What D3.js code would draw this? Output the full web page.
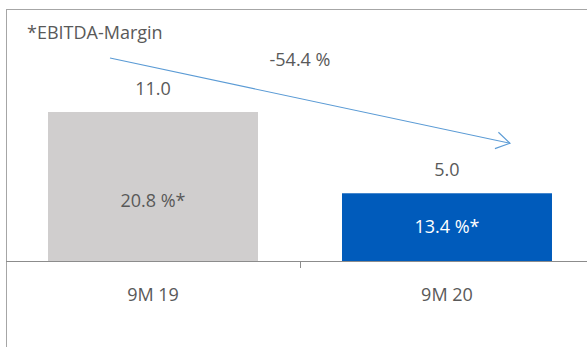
<!DOCTYPE html>
<html>
<head>
<meta charset="utf-8">
<script src="https://cdn.jsdelivr.net/npm/d3@7"></script>
<style>
  html, body { margin: 0; padding: 0; background: #fff; }
  svg { display: block; }
  text { font-family: "Open Sans", "Noto Sans", sans-serif; fill: #595959; }
</style>
</head>
<body>
<svg id="chart" width="587" height="347"></svg>
<script>
const categories = ["9M 19", "9M 20"];
const values = [11.0, 5.0];
const valueLabels = ["11.0", "5.0"];
const marginLabels = ["20.8 %*", "13.4 %*"];
const changeLabel = "-54.4 %";
const noteLabel = "*EBITDA-Margin";
const barColors = ["#d0cece", "#005bbb"];
const innerLabelColors = ["#595959", "#ffffff"];

const svg = d3.select("#chart");
const W = 587, H = 347;
const left = 6, right = 594, baseY = 261;

const x = d3.scaleBand().domain(categories).range([left, right])
  .paddingInner(0.2857).paddingOuter(0.1429);
const y = d3.scaleLinear().domain([0, 11]).range([baseY, 112]);

// frame
svg.append("rect").attr("x", 6.5).attr("y", 9.5).attr("width", 700).attr("height", 500)
  .attr("fill", "none").attr("stroke", "#a6a6a6").attr("stroke-width", 1);

// bars
svg.selectAll("rect.bar").data(values).join("rect").attr("class", "bar")
  .attr("x", (d, i) => x(categories[i]))
  .attr("width", x.bandwidth())
  .attr("y", d => y(d))
  .attr("height", d => baseY - y(d))
  .attr("fill", (d, i) => barColors[i]);

// axis
const axis = d3.axisBottom(x).tickSize(0).tickPadding(0);
const gx = svg.append("g").attr("transform", `translate(0,${baseY})`).call(axis);
gx.select(".domain").remove();
gx.selectAll(".tick text").remove();
svg.append("line").attr("x1", left).attr("x2", W).attr("y1", baseY + 0.5).attr("y2", baseY + 0.5)
  .attr("stroke", "#8c8c8c").attr("stroke-width", 1);
// tick between categories
const mid = (x(categories[0]) + x.bandwidth() + x(categories[1])) / 2;
svg.append("line").attr("x1", Math.round(mid) + 0.5).attr("x2", Math.round(mid) + 0.5)
  .attr("y1", baseY).attr("y2", baseY + 7).attr("stroke", "#8c8c8c");

const fs = 18;
// category labels
svg.selectAll("text.cat").data(categories).join("text").attr("class", "cat")
  .attr("x", d => x(d) + x.bandwidth() / 2).attr("y", 301)
  .attr("text-anchor", "middle").attr("font-size", fs).text(d => d);

// value labels
svg.selectAll("text.val").data(values).join("text").attr("class", "val")
  .attr("x", (d, i) => x(categories[i]) + x.bandwidth() / 2)
  .attr("y", d => y(d) - 17)
  .attr("text-anchor", "middle").attr("font-size", fs).text((d, i) => valueLabels[i]);

// inner margin labels
svg.selectAll("text.inner").data(values).join("text").attr("class", "inner")
  .attr("x", (d, i) => x(categories[i]) + x.bandwidth() / 2)
  .attr("y", (d, i) => i === 0 ? 207 : (y(d) + baseY) / 2 + 6)
  .attr("text-anchor", "middle").attr("font-size", fs)
  .style("fill", (d, i) => innerLabelColors[i]).text((d, i) => marginLabels[i]);

// note
svg.append("text").attr("x", 27).attr("y", 39).attr("font-size", fs).text(noteLabel);

// change arrow
const c0 = x(categories[0]) + x.bandwidth() / 2;
const c1 = x(categories[1]) + x.bandwidth() / 2;
const x0 = c0 - 43, y0 = y(values[0]) - 54;
const x1 = c1 + 63, y1 = y(values[1]) - 50;
svg.append("line").attr("x1", x0).attr("y1", y0).attr("x2", x1).attr("y2", y1)
  .attr("stroke", "#5b9bd5").attr("stroke-width", 1.1);
const ang = Math.atan2(y1 - y0, x1 - x0);
const hl = 16, ha = 0.55;
const p1 = [x1 - hl * Math.cos(ang - ha), y1 - hl * Math.sin(ang - ha)];
const p2 = [x1 - hl * Math.cos(ang + ha), y1 - hl * Math.sin(ang + ha)];
svg.append("path").attr("d", `M${p1[0]},${p1[1]}L${x1},${y1}L${p2[0]},${p2[1]}`)
  .attr("fill", "none").attr("stroke", "#5b9bd5").attr("stroke-width", 1.1);

svg.append("text").attr("x", (c0 + c1) / 2).attr("y", 66).attr("text-anchor", "middle")
  .attr("font-size", fs).text(changeLabel);
</script>
</body>
</html>
